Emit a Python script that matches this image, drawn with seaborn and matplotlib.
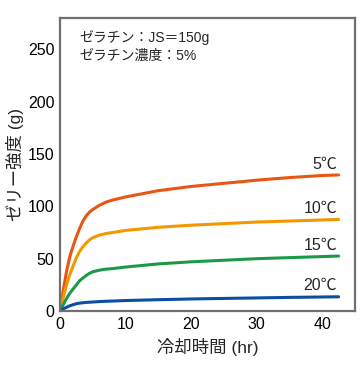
import matplotlib
matplotlib.use("Agg")
import matplotlib.pyplot as plt
import seaborn as sns
import pandas as pd

hours = [0, 0.25, 0.5, 0.75, 1, 1.25, 1.5, 1.75, 2, 2.5, 3, 3.5, 4, 4.5, 5, 6, 7, 8, 10, 15, 20, 25, 30, 35, 40, 42.5]
strength_5 = [0, 10, 20, 29, 38, 45, 52, 57, 62, 71, 79, 86, 91, 94.5, 97, 101, 104, 106, 109, 115, 119, 122, 125, 127.5, 129.5, 130]
strength_10 = [0, 6.5, 13, 19, 25, 30, 35, 39, 43, 51, 57, 61.5, 65, 68, 70, 72.5, 74, 75, 77, 80, 82, 83.5, 85, 86, 87, 87.5]
strength_15 = [0, 3, 6, 9, 12, 14.5, 17, 19, 21, 25, 29, 31.5, 34, 36, 37.5, 39, 40, 40.5, 42, 45, 47, 48.5, 50, 51, 52, 52.5]
strength_20 = [0, 1, 2, 2.8, 3.5, 4.3, 5, 5.5, 6, 7, 7.5, 7.9, 8.2, 8.4, 8.6, 9, 9.3, 9.5, 10, 10.8, 11.5, 12, 12.5, 13, 13.4, 13.6]
series_labels = ["5℃", "10℃", "15℃", "20℃"]
x_ticks = [0, 10, 20, 30, 40]
y_ticks = [0, 50, 100, 150, 200, 250]
note_lines = ["ゼラチン：JS＝150g", "ゼラチン濃度：5%"]
x_label = "冷却時間 (hr)"
y_label = "ゼリー強度 (g)"

colors = ["#E95513", "#F39800", "#1A9A48", "#0B4EA2"]

sns.set_theme(style="white")
plt.rcParams["font.family"] = ["Liberation Sans", "Noto Sans CJK JP", "DejaVu Sans"]

frames = []
for lab, vals in zip(series_labels, [strength_5, strength_10, strength_15, strength_20]):
    frames.append(pd.DataFrame({"t": hours, "v": vals, "s": lab}))
df = pd.concat(frames, ignore_index=True)

fig = plt.figure(figsize=(3.6, 3.65), dpi=100)
ax = fig.add_axes([60 / 360, 1 - 311 / 365, 295 / 360, 293 / 365])
sns.lineplot(data=df, x="t", y="v", hue="s", palette=colors, linewidth=2.2,
             legend=False, ax=ax, estimator=None, sort=False)
for ln in ax.lines:
    ln.set_solid_joinstyle("round")

ax.set_xlim(0, 45)
ax.set_ylim(0, 280)
ax.set_xticks(x_ticks)
ax.set_yticks(y_ticks)
ax.tick_params(direction="in", length=5, width=1.3, color="#707070",
               labelsize=11.5, labelcolor="black", pad=4)
for sp in ax.spines.values():
    sp.set_visible(True)
    sp.set_color("#707070")
    sp.set_linewidth(1.6)
ax.set_xlabel(x_label, fontsize=12.5, labelpad=5)
ax.set_ylabel(y_label, fontsize=12.5, labelpad=3)

for lab, vals in zip(series_labels, [strength_5, strength_10, strength_15, strength_20]):
    ax.text(42.3, vals[-1] + 3.5, lab, ha="right", va="bottom", fontsize=11.5)

ax.text(0.065, 0.96, "\n".join(note_lines), transform=ax.transAxes,
        ha="left", va="top", fontsize=10, linespacing=1.4)

fig.savefig("out.png", dpi=100)
